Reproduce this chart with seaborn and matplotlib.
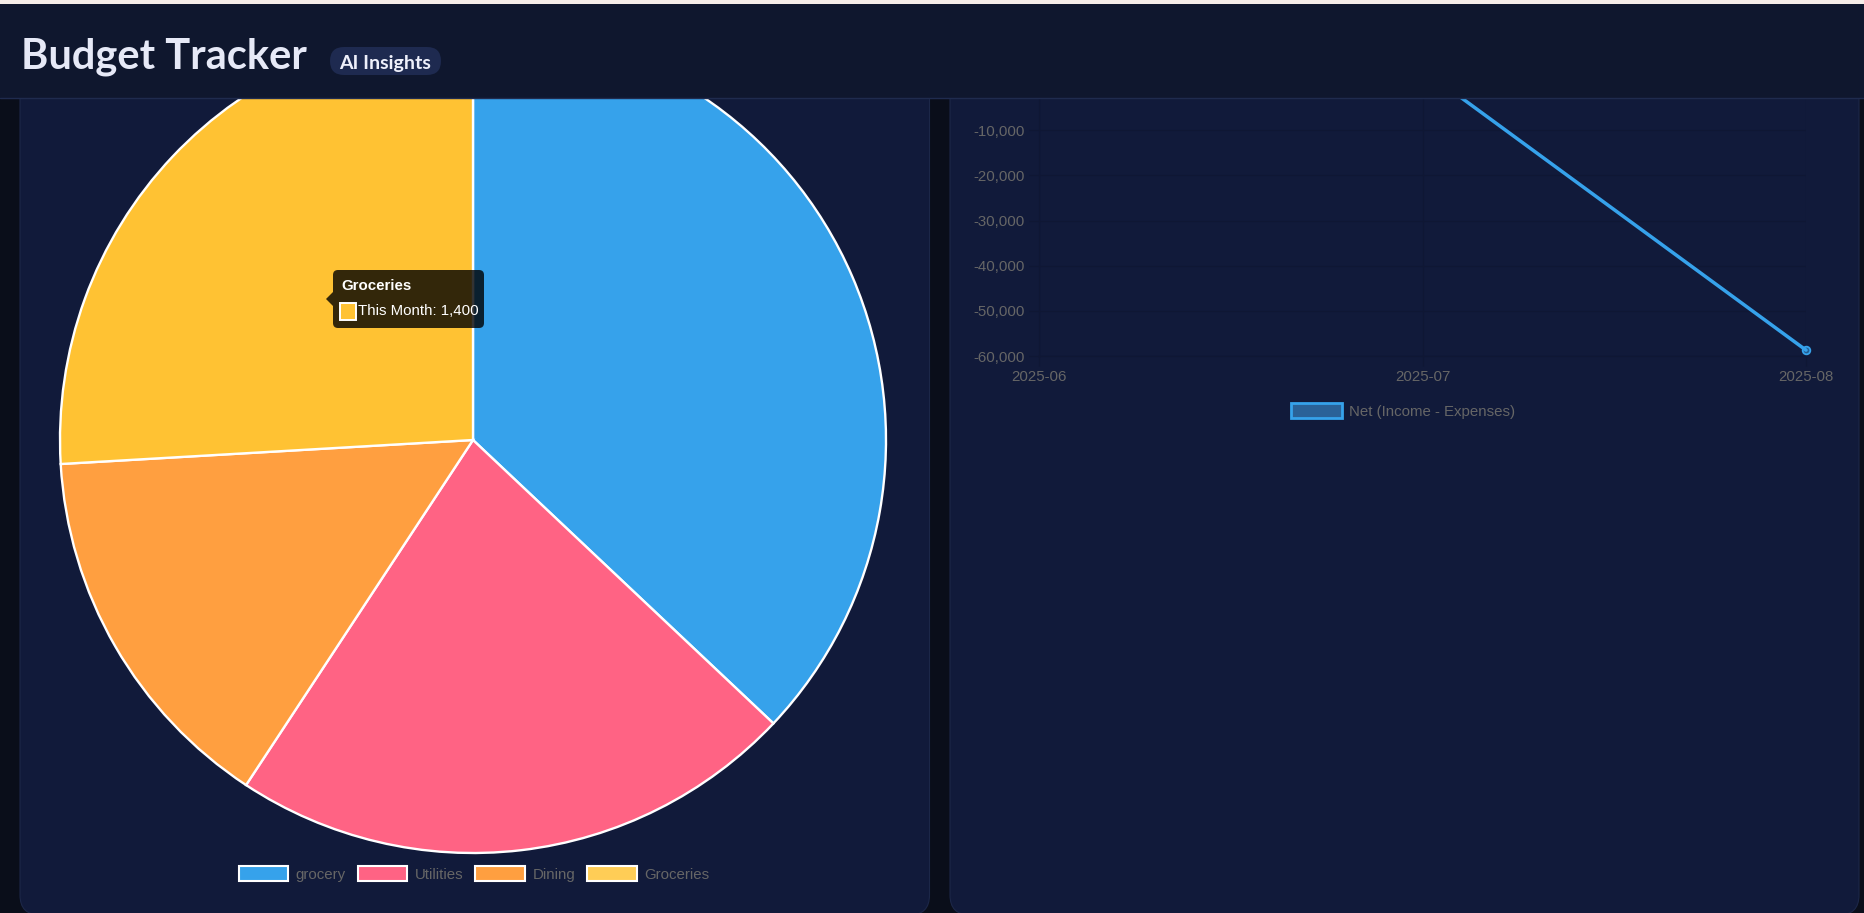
import numpy as np
import pandas as pd
import matplotlib.pyplot as plt
from matplotlib.patches import FancyBboxPatch, Rectangle, Polygon, Patch
from matplotlib.ticker import FuncFormatter
import seaborn as sns

sns.set_theme(style="dark")
plt.rcParams["font.family"] = ["Liberation Sans", "DejaVu Sans"]

# pie data (this month by category)
categories = ["grocery", "Utilities", "Dining", "Groceries"]
this_month = [2000, 1200, 800, 1400]
legend_colors = ["#36a2eb", "#ff6384", "#ff9f40", "#ffcd56"]
slice_colors = ["#36a2eb", "#ff6384", "#ff9f40", "#ffc233"]  # groceries is hovered

# net per month
months = ["2025-06", "2025-07", "2025-08"]
net = [2100, 3500, -58700]

PAGE = "#0a0e1a"
CARD = "#111a3a"
CARD_EDGE = "#1c2748"
HEADER = "#0f172e"
GRID = "#0f1734"
TICK = "#666666"

W, H = 1864, 913
fig = plt.figure(figsize=(W / 100, H / 100), dpi=100)
fig.patch.set_facecolor(PAGE)


def box(l, t, r, b):
    # pixel box -> figure fraction rect
    return [l / W, 1 - b / H, (r - l) / W, (b - t) / H]


# background cards
bg = fig.add_axes([0, 0, 1, 1], zorder=0)
bg.set_xlim(0, W)
bg.set_ylim(H, 0)
bg.axis("off")
for x0, x1 in [(20, 929.5), (950, 1859)]:
    bg.add_patch(FancyBboxPatch((x0, 40), x1 - x0, 875,
                                boxstyle="round,pad=0,rounding_size=20",
                                fc=CARD, ec=CARD_EDGE, lw=0.8))

# pie
ax_pie = fig.add_axes(box(60, 27, 886, 853), zorder=1)
ax_pie.pie(this_month, colors=slice_colors, startangle=90, counterclock=False,
           wedgeprops=dict(ec="white", lw=1.7))
ax_pie.set_xlim(-1.0, 1.0)
ax_pie.set_ylim(-1.0, 1.0)
ax_pie.set_aspect("equal")
ax_pie.patch.set_visible(False)
ax_pie.axis("off")

pie_handles = [Patch(fc=c, ec="white", lw=1.5, label=l) for c, l in zip(legend_colors, categories)]
ax_pie.legend(handles=pie_handles, loc="center", bbox_to_anchor=(474 / W, 1 - 874 / H),
              bbox_transform=fig.transFigure, ncol=4, frameon=False, fontsize=10.8,
              labelcolor=TICK, handlelength=3.3, handleheight=1.1,
              handletextpad=0.5, columnspacing=0.8)

# net line
df = pd.DataFrame({"month": months, "net": net})
ax_line = fig.add_axes(box(1039, 40, 1806, 356), zorder=1)
ax_line.set_facecolor("none")
sns.lineplot(data=df, x="month", y="net", ax=ax_line, color="#36a2eb", lw=2.5,
             marker="o", markersize=5.5, markeredgecolor="#36a2eb",
             markerfacecolor=(54 / 255, 162 / 255, 235 / 255, 0.5), markeredgewidth=1.3)
for ln in ax_line.lines:
    ln.set_clip_on(False)
ax_line.set_xlim(0, 2)
ax_line.set_ylim(-60000, 10000)
ax_line.set_yticks(np.arange(-60000, 10001, 10000))
ax_line.yaxis.set_major_formatter(FuncFormatter(lambda v, _: f"{v:,.0f}"))
ax_line.set_xlabel("")
ax_line.set_ylabel("")
ax_line.grid(True, color=GRID, lw=0.8)
ax_line.tick_params(axis="both", colors=GRID, labelcolor=TICK, labelsize=10.8,
                    length=7, width=0.8, pad=3, bottom=True, left=True)
for lbl in ax_line.get_yticklabels():
    lbl.set_y(lbl.get_position()[1])
for side in ["top", "right"]:
    ax_line.spines[side].set_visible(False)
for side in ["left", "bottom"]:
    ax_line.spines[side].set_color(GRID)
    ax_line.spines[side].set_linewidth(0.8)

line_handle = Patch(fc="#2a6298", ec="#36a2eb", lw=2, label="Net (Income - Expenses)")
ax_line.legend(handles=[line_handle], loc="center", bbox_to_anchor=(1403 / W, 1 - 411 / H),
               bbox_transform=fig.transFigure, frameon=False, fontsize=10.8,
               labelcolor=TICK, handlelength=3.4, handleheight=1.1, handletextpad=0.45)

# overlay: tooltip + header
top = fig.add_axes([0, 0, 1, 1], zorder=5)
top.set_xlim(0, W)
top.set_ylim(H, 0)
top.axis("off")
top.patch.set_visible(False)

tip = (0, 0, 0, 0.8)
top.add_patch(FancyBboxPatch((333, 270), 151, 58, boxstyle="round,pad=0,rounding_size=5",
                             fc=tip, ec="none"))
top.add_patch(Polygon([(333, 292), (326, 299), (333, 306)], closed=True, fc=tip, ec="none"))
top.text(341, 290, categories[3], color="white", fontsize=10.8, fontweight="bold", va="baseline")
top.add_patch(Rectangle((339.5, 303.5), 16.5, 17, fc=slice_colors[3], ec="white", lw=1.4))
top.text(358, 315, f"This Month: {this_month[3]:,}", color="white", fontsize=10.8, va="baseline")

top.add_patch(Rectangle((0, 0), W, 98, fc=HEADER, ec="none"))
top.add_patch(Rectangle((0, 0), W, 4, fc="#f6ede9", ec="none"))
top.plot([0, W], [98, 98], color="#1f2b4e", lw=1)
top.text(21, 68, "Budget Tracker", color="#e6e9f7", fontsize=30, fontweight="bold",
         va="baseline", family=["Lato", "DejaVu Sans"])
top.add_patch(FancyBboxPatch((330, 47), 111, 28, boxstyle="round,pad=0,rounding_size=14",
                             fc="#1e2a50", ec="none"))
top.text(385.5, 69, "AI Insights", color="#eef0fb", fontsize=14, fontweight="bold",
         va="baseline", ha="center", family=["Lato", "DejaVu Sans"])

fig.savefig("out.png", dpi=100, facecolor=fig.get_facecolor())
